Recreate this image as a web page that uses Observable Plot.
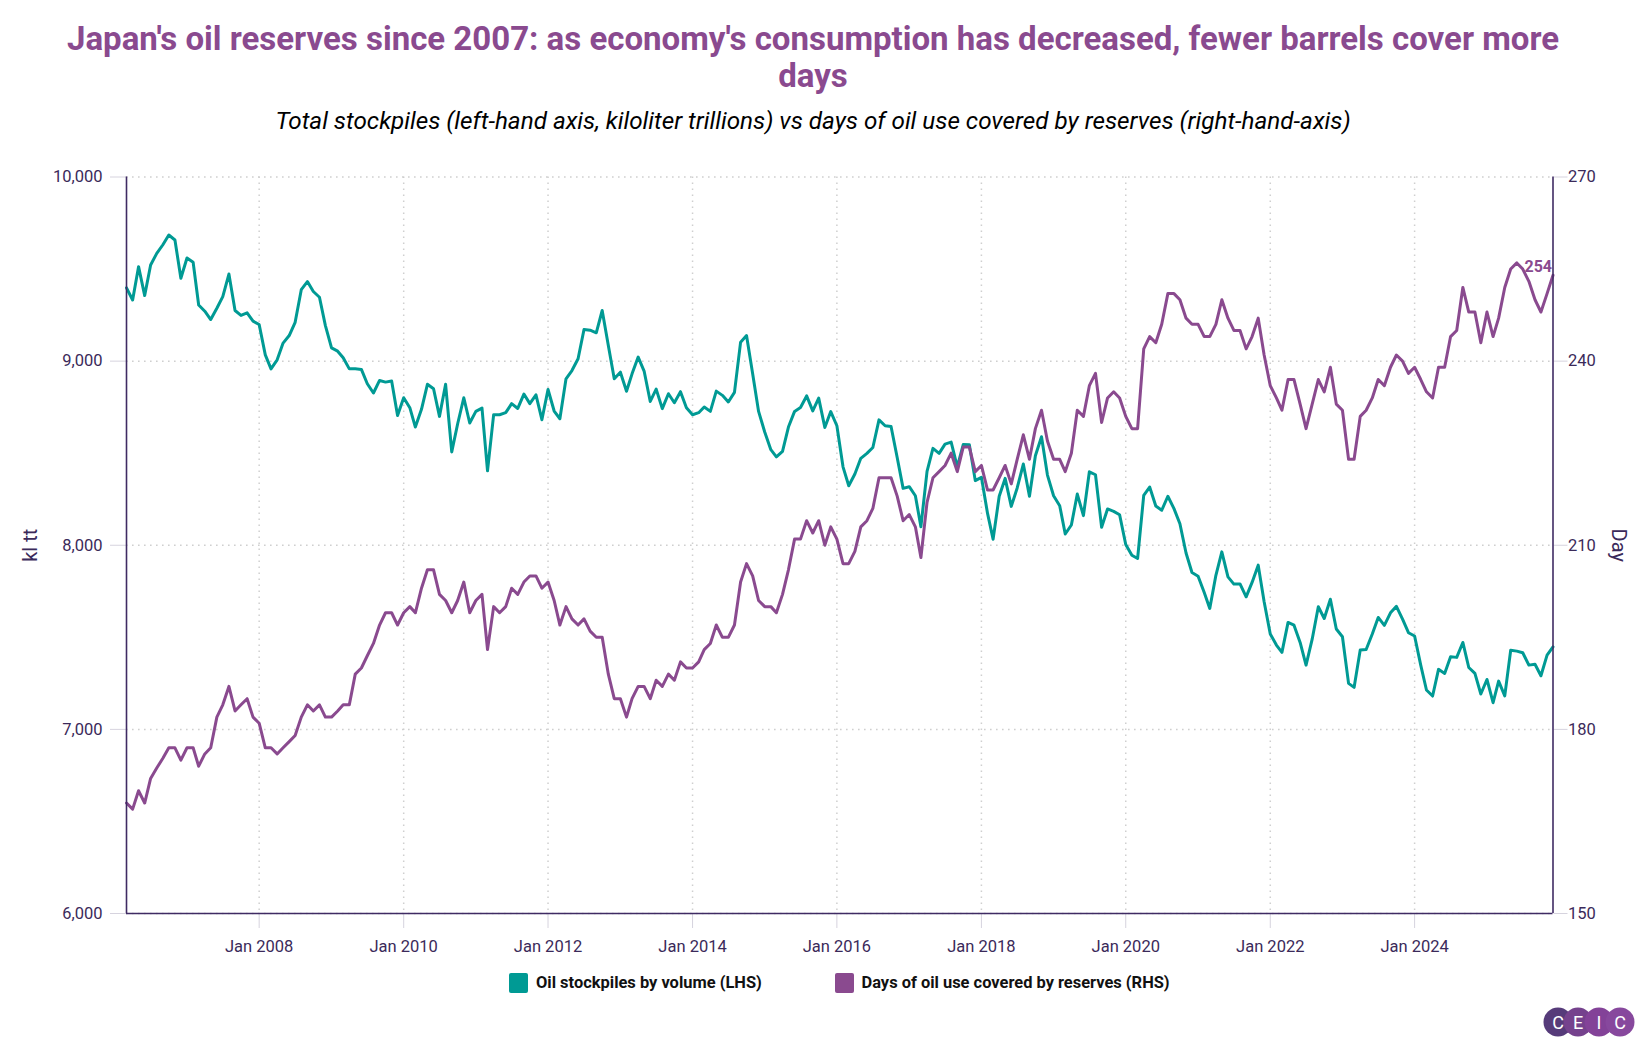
<!DOCTYPE html>
<html>
<head>
<meta charset="utf-8">
<script src="https://cdn.jsdelivr.net/npm/d3@7"></script>
<script src="https://cdn.jsdelivr.net/npm/@observablehq/plot@0.6"></script>
<style>
  html, body { margin: 0; padding: 0; background: #fff; }
  body { width: 1650px; height: 1050px; position: relative; overflow: hidden; font-family: Roboto, sans-serif; }
  #title { position: absolute; left: 38px; width: 1550px; top: 20px; text-align: center; font-size: 33px; line-height: 37px; font-weight: 700; color: #8a4a8f; }
  #subtitle { position: absolute; left: 0; width: 1626px; top: 107px; text-align: center; font-size: 24.25px; line-height: 28px; font-style: italic; color: #000; }
  #chart { position: absolute; left: 0; top: 140px; }
  #legend { position: absolute; top: 972px; left: 509px; height: 22px; font-size: 16.45px; font-weight: 700; color: #111; }
  .item { position: absolute; top: 0; white-space: nowrap; line-height: 22px; }
  .sw { position: absolute; left: 0; top: 1px; width: 19px; height: 20px; border-radius: 2px; }
  .lb { position: absolute; left: 27px; top: 0; }
  #logo { position: absolute; left: 1540px; top: 1004px; }
</style>
</head>
<body>
<div id="title">Japan's oil reserves since 2007: as economy's consumption has decreased, fewer barrels cover more days</div>
<div id="subtitle">Total stockpiles (left-hand axis, kiloliter trillions) vs days of oil use covered by reserves (right-hand-axis)</div>
<div id="chart"></div>
<div id="legend">
  <div class="item" style="left:0"><span class="sw" style="background:#009a94"></span><span class="lb">Oil stockpiles by volume (LHS)</span></div>
  <div class="item" style="left:325.5px"><span class="sw" style="background:#8a4a8f"></span><span class="lb">Days of oil use covered by reserves (RHS)</span></div>
</div>
<svg id="logo" width="100" height="36" viewBox="0 0 100 36" font-family="Roboto, sans-serif" font-size="18" fill="#fff" text-anchor="middle">
  <g opacity="0.88">
    <circle cx="18" cy="18" r="14.5" fill="#3f2168"/>
    <circle cx="38" cy="18" r="14.5" fill="#62287e"/>
    <circle cx="59" cy="18" r="14.5" fill="#72288a"/>
    <circle cx="80" cy="18" r="14.5" fill="#772f90"/>
  </g>
  <text x="18" y="24.5">C</text><text x="38" y="24.5">E</text><text x="59" y="24.5">I</text><text x="80" y="24.5">C</text>
</svg>
<script>
const stockpiles = [
  9398,9332,9513,9356,9522,9585,9632,9685,9658,9450,
  9560,9537,9305,9271,9226,9287,9350,9473,9275,9248,
  9262,9217,9199,9034,8958,9007,9098,9139,9211,9388,
  9432,9378,9347,9193,9072,9054,9018,8958,8958,8955,
  8877,8827,8895,8886,8892,8705,8801,8747,8642,8738,
  8874,8850,8700,8874,8507,8660,8801,8664,8727,8745,
  8404,8709,8709,8720,8769,8743,8821,8769,8817,8682,
  8846,8729,8687,8904,8949,9013,9172,9168,9154,9275,
  9085,8904,8940,8836,8931,9022,8946,8781,8848,8742,
  8823,8774,8834,8747,8709,8720,8751,8727,8837,8814,
  8778,8830,9103,9139,8931,8727,8615,8519,8480,8510,
  8642,8727,8748,8811,8730,8799,8640,8726,8649,8426,
  8323,8387,8472,8499,8531,8681,8649,8645,8477,8309,
  8318,8269,8101,8401,8526,8499,8549,8560,8426,8547,
  8546,8351,8369,8173,8033,8266,8363,8211,8311,8441,
  8266,8486,8589,8381,8269,8215,8061,8110,8278,8161,
  8399,8383,8098,8197,8184,8166,8004,7946,7928,8271,
  8316,8213,8190,8266,8199,8117,7958,7852,7832,7743,
  7657,7837,7964,7828,7789,7790,7720,7798,7892,7693,
  7518,7458,7418,7581,7566,7472,7349,7490,7666,7602,
  7707,7545,7503,7250,7228,7431,7434,7518,7608,7565,
  7633,7668,7599,7525,7507,7349,7214,7181,7326,7304,
  7395,7391,7472,7336,7304,7192,7271,7145,7262,7182,
  7430,7425,7416,7349,7354,7291,7403,7448
];
const daysCovered = [
  168,167,170,168,172,173.7,175.3,177,177,175,
  177,177,174,176,177,182,184,187,183,184,
  185,182,181,177,177,176,177,178,179,182,
  184,183,184,182,182,183,184,184,189,190,
  192,194,197,199,199,197,199,200,199,203,
  206,206,202,201,199,201,204,199,201,202,
  193,200,199,200,203,202,204,205,205,203,
  204,201,197,200,198,197,198,196,195,195,
  189,185,185,182,185,187,187,185,188,187,
  189,188,191,190,190,191,193,194,197,195,
  195,197,204,207,205,201,200,200,199,202,
  206,211,211,214,212,214,210,213,211,207,
  207,209,213,214,216,221,221,221,218,214,
  215,213,208,217,221,222,223,225,222,226,
  226,222,223,219,219,221,223,220,224,228,
  224,229,232,227,224,224,222,225,232,231,
  236,238,230,234,235,234,231,229,229,242,
  244,243,246,251,251,250,247,246,246,244,
  244,246,250,247,245,245,242,244,247,241,
  236,234,232,237,237,233,229,233,237,235,
  239,233,232,224,224,231,232,234,237,236,
  239,241,240,238,239,237,235,234,239,239,
  244,245,252,248,248,243,248,244,247,252,
  255,256,255,253,250,248,251,254
];
const months = d3.utcMonth.range(new Date(Date.UTC(2006, 2, 1)), new Date(Date.UTC(2026, 0, 1)));
const xTickYears = [2008, 2010, 2012, 2014, 2016, 2018, 2020, 2022, 2024];
const leftTicks = [6000, 7000, 8000, 9000, 10000];
const rightTicks = [150, 180, 210, 240, 270];

const teal = "#009a94", purple = "#8a4a8f", ink = "#3b2a5a", frame = "#3f2b63", tickCol = "#d6d3de", gridCol = "#cfcfcf";
// right-hand axis is aligned to the left-hand scale: 150–270 days span 6,000–10,000
const dayToLeft = d => 6000 + (d - 150) * (4000 / 120);
const leftToDay = v => 150 + (v - 6000) * (120 / 4000);

const xTicks = xTickYears.map(y => new Date(Date.UTC(y, 0, 1)));
const stockRows = months.map((date, i) => ({date, value: stockpiles[i]}));
const dayRows = months.map((date, i) => ({date, value: daysCovered[i]}));
const last = dayRows[dayRows.length - 1];

const plot = Plot.plot({
  width: 1650,
  height: 820,
  marginTop: 36.5,
  marginBottom: 47,
  marginLeft: 126,
  marginRight: 97.5,
  style: {fontFamily: "Roboto, sans-serif", fontSize: "16.5px", color: ink, background: "#fff", overflow: "visible"},
  x: {type: "utc", domain: [months[0], months[months.length - 1]]},
  y: {domain: [6000, 10000]},
  marks: [
    Plot.gridX(xTicks, {stroke: gridCol, strokeOpacity: 1, strokeDasharray: "1.6,4.4", strokeWidth: 1.5}),
    Plot.gridY(leftTicks, {stroke: gridCol, strokeOpacity: 1, strokeDasharray: "1.6,4.4", strokeWidth: 1.5}),
    Plot.axisX({ticks: xTicks, tickFormat: d3.utcFormat("%b %Y"), tickSize: 15, tickPadding: 12, stroke: tickCol, fill: ink, label: null}),
    Plot.axisY({ticks: leftTicks, tickFormat: d3.format(","), tickSize: 16, tickPadding: 8, stroke: tickCol, fill: ink, label: null}),
    Plot.axisY({ticks: rightTicks.map(dayToLeft), anchor: "right", tickFormat: v => String(Math.round(leftToDay(v))), tickSize: 14, tickPadding: 1, stroke: tickCol, fill: ink, label: null}),
    Plot.line(stockRows, {x: "date", y: "value", stroke: teal, strokeWidth: 3}),
    Plot.line(dayRows, {x: "date", y: d => dayToLeft(d.value), stroke: purple, strokeWidth: 3}),
    Plot.ruleX([months[0]], {stroke: frame, strokeWidth: 1.6}),
    Plot.ruleX([months[months.length - 1]], {stroke: frame, strokeWidth: 1.6}),
    Plot.ruleY([6000], {stroke: frame, strokeWidth: 1.6}),
    Plot.text([last], {x: "date", y: d => dayToLeft(d.value), text: d => String(d.value), textAnchor: "end", dx: -1, dy: -8, fill: purple, fontWeight: 700, fontSize: 16}),
    Plot.text(["kl tt"], {frameAnchor: "left", textAnchor: "middle", rotate: -90, dx: -96, fill: ink, fontSize: 20}),
    Plot.text(["Day"], {frameAnchor: "right", textAnchor: "middle", rotate: 90, dx: 65, fill: ink, fontSize: 20})
  ]
});
document.getElementById("chart").appendChild(plot);
</script>
</body>
</html>
